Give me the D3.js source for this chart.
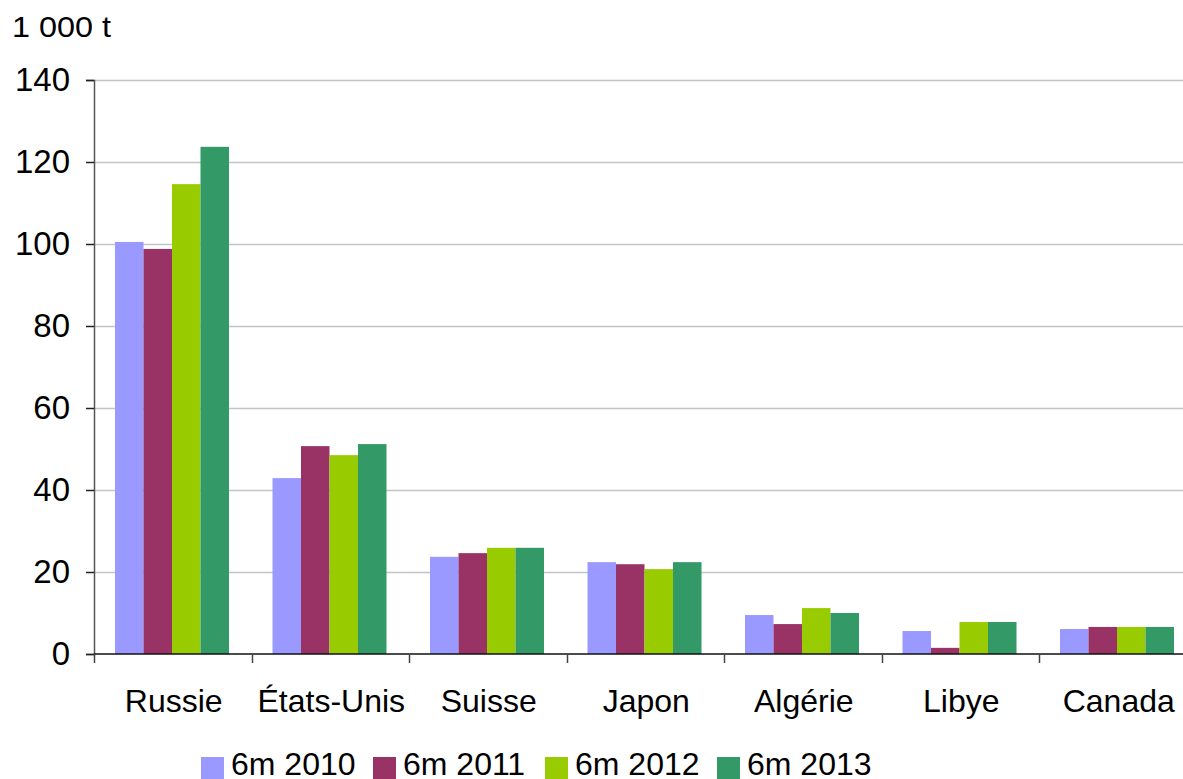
<!DOCTYPE html>
<html>
<head>
<meta charset="utf-8">
<script src="https://cdn.jsdelivr.net/npm/d3@7"></script>
<style>
  html, body { margin: 0; padding: 0; background: #fff; }
  svg { display: block; font-family: "Liberation Sans", Arial, sans-serif; }
</style>
</head>
<body>
<svg id="chart" width="1183" height="779"></svg>
<script>
const categories = ["Russie", "États-Unis", "Suisse", "Japon", "Algérie", "Libye", "Canada"];
const seriesNames = ["6m 2010", "6m 2011", "6m 2012", "6m 2013"];
const values2010 = [100.5, 42.9, 23.7, 22.4, 9.5, 5.6, 6.1];
const values2011 = [98.8, 50.7, 24.6, 21.9, 7.3, 1.5, 6.6];
const values2012 = [114.6, 48.5, 25.9, 20.7, 11.2, 7.8, 6.6];
const values2013 = [123.7, 51.2, 25.9, 22.4, 10.0, 7.8, 6.6];
const yTicks = [0, 20, 40, 60, 80, 100, 120, 140];
const unitLabel = "1 000 t";
const colors = ["#9999FF", "#993366", "#99CC00", "#339966"];

const seriesValues = [values2010, values2011, values2012, values2013];

const svg = d3.select("#chart");

const x = d3.scaleBand().domain(categories).range([94, 1196.5]).paddingInner(0).paddingOuter(0);
const xInner = d3.scaleBand().domain(seriesNames).range([21, 135]).padding(0);
const y = d3.scaleLinear().domain([0, 140]).range([654, 80]);

// gridlines
svg.append("g")
  .selectAll("line")
  .data(yTicks.filter(d => d > 0))
  .join("line")
  .attr("x1", 94).attr("x2", 1183)
  .attr("y1", d => Math.round(y(d)) + 0.5).attr("y2", d => Math.round(y(d)) + 0.5)
  .attr("stroke", "#c4c4c4").attr("stroke-width", 1.5);

// bars
const groups = svg.append("g")
  .selectAll("g")
  .data(categories)
  .join("g")
  .attr("transform", d => `translate(${x(d)},0)`);

groups.selectAll("rect")
  .data((c, i) => seriesNames.map((s, j) => ({ s, v: seriesValues[j][i], j })))
  .join("rect")
  .attr("x", d => xInner(d.s))
  .attr("width", xInner.bandwidth())
  .attr("y", d => y(d.v))
  .attr("height", d => y(0) - y(d.v))
  .attr("fill", d => colors[d.j]);

// y axis
const yAxis = d3.axisLeft(y).tickValues(yTicks).tickSize(8).tickPadding(16).tickFormat(d3.format("d"));
const gy = svg.append("g").attr("transform", "translate(94,0)").call(yAxis);
gy.select(".domain").attr("stroke", "#555").attr("stroke-width", 1.5);
gy.selectAll(".tick line").attr("stroke", "#222").attr("stroke-width", 1.5);
gy.selectAll(".tick text").attr("font-size", 33).attr("fill", "#000")
  .attr("font-family", "Liberation Sans, Arial, sans-serif");

// x axis
const bounds = categories.map(c => x(c)).concat([x.range()[1]]);
svg.append("line")
  .attr("x1", 94).attr("x2", 1183)
  .attr("y1", y(0)).attr("y2", y(0))
  .attr("stroke", "#111").attr("stroke-width", 1.5);
svg.append("g").selectAll("line")
  .data(bounds.filter(b => b <= 1183))
  .join("line")
  .attr("x1", d => Math.round(d) + 0.5).attr("x2", d => Math.round(d) + 0.5)
  .attr("y1", y(0)).attr("y2", y(0) + 9)
  .attr("stroke", "#444").attr("stroke-width", 1.5);

svg.append("g").selectAll("text")
  .data(categories)
  .join("text")
  .attr("x", d => x(d) + x.bandwidth() / 2 + 1)
  .attr("y", 712)
  .attr("text-anchor", "middle")
  .attr("font-size", 32)
  .attr("fill", "#000")
  .text(d => d);

// unit label
svg.append("text")
  .attr("x", 12).attr("y", 37)
  .attr("font-size", 30)
  .attr("textLength", 99)
  .attr("lengthAdjust", "spacingAndGlyphs")
  .attr("fill", "#000")
  .text(unitLabel);

// legend
const legend = svg.append("g");
seriesNames.forEach((s, i) => {
  const lx = 201 + i * 172;
  legend.append("rect")
    .attr("x", lx).attr("y", 757).attr("width", 23).attr("height", 22)
    .attr("fill", colors[i]);
  legend.append("text")
    .attr("x", lx + 30).attr("y", 775)
    .attr("font-size", 32)
    .attr("fill", "#000")
    .text(s);
});
</script>
</body>
</html>
